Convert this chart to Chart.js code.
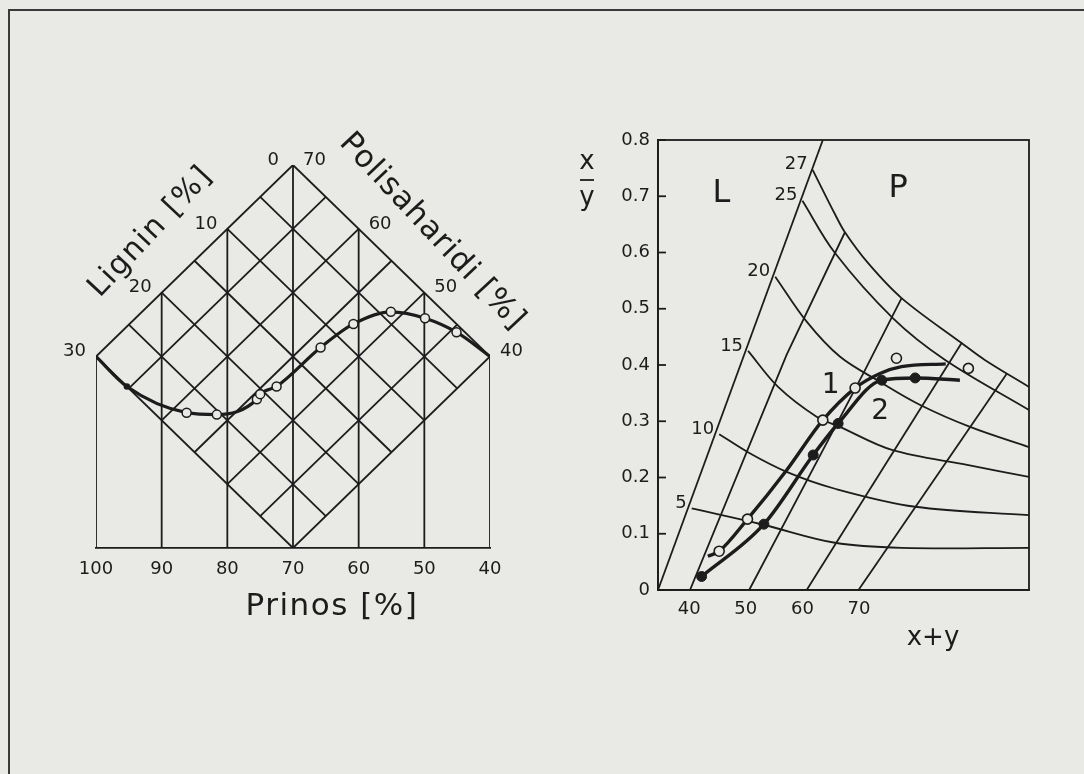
<!DOCTYPE html>
<html>
<head>
<meta charset="utf-8">
<script src="https://cdn.jsdelivr.net/npm/chart.js@4.4.1/dist/chart.umd.min.js"></script>
<style>
  html, body { margin: 0; padding: 0; background: #e9eae6; }
  #page { position: relative; width: 1084px; height: 774px; overflow: hidden; }
  #page::before { content: ""; position: absolute; left: 8px; top: 9px; right: -4px; bottom: -4px;
    border-top: 2px solid #3a3a3a; border-left: 2px solid #3a3a3a; }
  canvas { position: absolute; top: 0; }
  #left { left: 0; }
  #right { left: 540px; }
</style>
</head>
<body>
<div id="page">
  <canvas id="left" width="560" height="774"></canvas>
  <canvas id="right" width="544" height="774"></canvas>
</div>
<script>
const INK = "#1c1c1c";
const PAPER = "#e9eae6";
const FONT = "'DejaVu Sans', 'Liberation Sans', sans-serif";
const GRID_W = 1.8;

// ---- left diagram: Prinos = Lignin + Polisaharidi ----
const ligninSteps = [0, 5, 10, 15, 20, 25, 30];
const polySteps = [40, 45, 50, 55, 60, 65, 70];
const prinosLines = [100, 90, 80, 70, 60, 50, 40];
const prinosTicks = [100, 90, 80, 70, 60, 50, 40];
const ligninLabels = [30, 20, 10, 0];
const polyLabels = [70, 60, 50, 40];

// measured composition: yield and lignin content
const curvePrinos = [100, 95.3, 86.2, 81.6, 75.5, 75.0, 72.5, 65.8, 60.8, 55.1, 49.9, 45.1, 40];
const curveLignin = [30, 30.0, 27.5, 25.35, 21.1, 20.45, 18.6, 12.2, 7.85, 4.05, 1.95, 0.65, 0];

// ---- right diagram: x/y against x+y ----
const sumTicks = [40, 50, 60, 70];
const levelLabels = [5, 10, 15, 20, 25, 27];
const levelSum = [
  [40.45, 53.1, 65.75, 77.5, 100],
  [45.3, 50.7, 57.2, 65.75, 79.9, 100],
  [50.4, 55.7, 62.5, 66.6, 75.8, 89.3, 100],
  [55.2, 60.75, 66.6, 73.7, 80.8, 89.6, 100],
  [60.0, 65.75, 76.0, 85.2, 100],
  [61.8, 65.75, 67.5, 71.6, 77.5, 88.1, 92.2, 100]
];
const levelRatio = [
  [0.145, 0.116, 0.084, 0.075, 0.075],
  [0.277, 0.243, 0.210, 0.180, 0.148, 0.133],
  [0.425, 0.361, 0.308, 0.290, 0.249, 0.222, 0.201],
  [0.557, 0.477, 0.415, 0.370, 0.329, 0.290, 0.254],
  [0.692, 0.599, 0.483, 0.409, 0.320],
  [0.747, 0.668, 0.636, 0.581, 0.519, 0.439, 0.409, 0.361]
];
const raySum = [[34.5, 63.6], [40.15, 57.2, 67.5], [50.6, 70.75, 77.5], [60.75, 88.1], [69.9, 96.1]];
const rayRatio = [[0, 0.8], [0, 0.418, 0.636], [0, 0.385, 0.519], [0, 0.439], [0, 0.385]];

const series1Sum = [43.3, 45.3, 50.3, 57.2, 63.6, 69.3, 73.7, 77.5, 85.3];
const series1Ratio = [0.060, 0.069, 0.126, 0.213, 0.302, 0.359, 0.385, 0.397, 0.402];
const series1Marked = [0, 1, 1, 0, 1, 1, 0, 0, 0];
const series1OffSum = [76.6, 89.3];
const series1OffRatio = [0.412, 0.394];
const series2Sum = [42.2, 53.2, 61.9, 66.3, 74.0, 79.9, 87.8];
const series2Ratio = [0.024, 0.117, 0.240, 0.296, 0.373, 0.377, 0.373];
const series2Marked = [1, 1, 1, 1, 1, 1, 0];

function gridLine(points) {
  return { data: points, showLine: true, borderColor: INK, borderWidth: GRID_W,
    pointRadius: 0, tension: 0 };
}
function gridCurve(xs, ys) {
  return { data: xs.map((v, i) => ({ x: v, y: ys[i] })), showLine: true, borderColor: INK,
    borderWidth: GRID_W, pointRadius: 0, tension: 0.35 };
}
function drawText(ctx, text, x, y, size, align, spacing) {
  ctx.font = `${size}px ${FONT}`;
  ctx.letterSpacing = (spacing || 0) + "px";
  ctx.textAlign = align || "center";
  ctx.textBaseline = "middle";
  ctx.fillText(text, x, y);
}

// node of the lignin/polysaccharide grid: x = Prinos, y = Polisaharidi - Lignin
const node = (lig, poly) => ({ x: lig + poly, y: poly - lig });

const leftSets = [{
  data: curvePrinos.map((p, i) => ({ x: p, y: p - 2 * curveLignin[i] })),
  showLine: true, borderColor: INK, borderWidth: 3.2, cubicInterpolationMode: "monotone",
  pointRadius: curvePrinos.map((p, i) => (i === 0 || i === curvePrinos.length - 1) ? 0 : (i === 1 ? 2.5 : 4.5)),
  pointBackgroundColor: curvePrinos.map((p, i) => i === 1 ? INK : PAPER),
  pointBorderColor: INK, pointBorderWidth: 1.5
}];
const polyLo = polySteps[0], polyHi = polySteps[polySteps.length - 1];
const ligLo = ligninSteps[0], ligHi = ligninSteps[ligninSteps.length - 1];
ligninSteps.forEach(l => leftSets.push(gridLine([node(l, polyLo), node(l, polyHi)])));
polySteps.forEach(p => leftSets.push(gridLine([node(ligLo, p), node(ligHi, p)])));
prinosLines.forEach(p => {
  // verticals run from the base up to the upper edge of the diamond
  const top = p <= polyHi ? node(ligLo, p).y : node(p - polyHi, polyHi).y;
  leftSets.push(gridLine([{ x: p, y: polyLo - ligHi }, { x: p, y: top }]));
});

const leftLabels = {
  id: "leftLabels",
  afterDatasetsDraw(chart) {
    const { ctx, scales: { x, y } } = chart;
    ctx.save();
    ctx.fillStyle = INK;
    ligninLabels.forEach(l => {
      const n = node(l, polyHi);
      const dx = l === 0 ? -14 : -10;
      drawText(ctx, String(l), x.getPixelForValue(n.x) + dx, y.getPixelForValue(n.y) - 5, 18, "right");
    });
    polyLabels.forEach(p => {
      const n = node(ligLo, p);
      drawText(ctx, String(p), x.getPixelForValue(n.x) + 10, y.getPixelForValue(n.y) - 5, 18, "left");
    });
    drawText(ctx, "Prinos [%]", 332, 607, 31, "center", 1.5);
    ctx.translate(151, 232);
    ctx.rotate(-47 * Math.PI / 180);
    drawText(ctx, "Lignin [%]", 0, 0, 30, "center", 1.5);
    ctx.setTransform(1, 0, 0, 1, 0, 0);
    ctx.translate(432, 232);
    ctx.rotate(47 * Math.PI / 180);
    drawText(ctx, "Polisaharidi [%]", 0, 0, 31, "center", 1);
    ctx.restore();
  }
};

new Chart(document.getElementById("left"), {
  type: "scatter",
  data: { datasets: leftSets },
  options: {
    responsive: false, animation: false, events: [],
    layout: { autoPadding: false, padding: { left: 96, right: 70, top: 165, bottom: 186 } },
    plugins: { legend: { display: false }, tooltip: { enabled: false } },
    scales: {
      x: {
        type: "linear", reverse: true, min: 40, max: 100,
        afterBuildTicks: s => { s.ticks = prinosTicks.map(v => ({ value: v })); },
        afterFit: s => { s.height = 40; },
        grid: { display: false, drawTicks: false },
        border: { display: true, color: INK, width: GRID_W },
        ticks: { color: INK, font: { family: FONT, size: 18 }, padding: 11, maxRotation: 0, autoSkip: false }
      },
      y: { display: false, min: 10, max: 70 }
    }
  },
  plugins: [leftLabels]
});

// ---- right diagram ----
const rightSets = [
  {
    data: series1Sum.map((v, i) => ({ x: v, y: series1Ratio[i] })),
    showLine: true, borderColor: INK, borderWidth: 3.4, cubicInterpolationMode: "monotone",
    pointRadius: series1Marked.map(m => m ? 5 : 0),
    pointBackgroundColor: PAPER, pointBorderColor: INK, pointBorderWidth: 1.6
  },
  {
    data: series2Sum.map((v, i) => ({ x: v, y: series2Ratio[i] })),
    showLine: true, borderColor: INK, borderWidth: 3.4, cubicInterpolationMode: "monotone",
    pointRadius: series2Marked.map(m => m ? 5 : 0),
    pointBackgroundColor: INK, pointBorderColor: INK, pointBorderWidth: 1
  },
  {
    data: series1OffSum.map((v, i) => ({ x: v, y: series1OffRatio[i] })),
    showLine: false, pointRadius: 5,
    pointBackgroundColor: PAPER, pointBorderColor: INK, pointBorderWidth: 1.6
  }
];
levelSum.forEach((xs, i) => rightSets.push(gridCurve(xs, levelRatio[i])));
raySum.forEach((xs, i) => rightSets.push(gridLine(xs.map((v, j) => ({ x: v, y: rayRatio[i][j] })))));

const rightLabels = {
  id: "rightLabels",
  afterDatasetsDraw(chart) {
    const { ctx, chartArea: a, scales: { x, y } } = chart;
    ctx.save();
    ctx.strokeStyle = INK;
    ctx.lineWidth = GRID_W;
    ctx.strokeRect(a.left, a.top, a.right - a.left, a.bottom - a.top);
    // tick marks point into the plot
    y.ticks.forEach(t => {
      const py = y.getPixelForValue(t.value);
      ctx.beginPath();
      ctx.moveTo(a.left, py);
      ctx.lineTo(a.left + 8, py);
      ctx.stroke();
    });
    ctx.fillStyle = INK;
    levelLabels.forEach((lv, i) => {
      drawText(ctx, String(lv), x.getPixelForValue(levelSum[i][0]) - 5,
        y.getPixelForValue(levelRatio[i][0]) - 5, 18, "right");
    });
    drawText(ctx, "L", x.getPixelForValue(45.7), y.getPixelForValue(0.705), 32, "center");
    drawText(ctx, "P", x.getPixelForValue(76.9), y.getPixelForValue(0.714), 32, "center");
    drawText(ctx, "1", x.getPixelForValue(65.0), y.getPixelForValue(0.364), 28, "center");
    drawText(ctx, "2", x.getPixelForValue(73.7), y.getPixelForValue(0.317), 28, "center");
    // x over y, as a fraction
    const fx = a.left - 71;
    drawText(ctx, "x", fx, a.top + 22, 26, "center");
    ctx.beginPath();
    ctx.moveTo(fx - 7, a.top + 40);
    ctx.lineTo(fx + 7, a.top + 40);
    ctx.stroke();
    drawText(ctx, "y", fx, a.top + 58, 26, "center");
    drawText(ctx, "x+y", a.right - 96, a.bottom + 48, 26, "center");
    ctx.restore();
  }
};

new Chart(document.getElementById("right"), {
  type: "scatter",
  data: { datasets: rightSets },
  options: {
    responsive: false, animation: false, events: [],
    layout: { autoPadding: false, padding: { left: 48, right: 55, top: 140, bottom: 134 } },
    plugins: { legend: { display: false }, tooltip: { enabled: false } },
    scales: {
      x: {
        type: "linear", min: 34.5, max: 100,
        afterBuildTicks: s => { s.ticks = sumTicks.map(v => ({ value: v })); },
        afterFit: s => { s.height = 50; },
        grid: { display: false, drawTicks: false },
        border: { display: true, color: INK, width: GRID_W },
        ticks: { color: INK, font: { family: FONT, size: 18 }, padding: 9, maxRotation: 0, autoSkip: false }
      },
      y: {
        type: "linear", min: 0, max: 0.8,
        afterFit: s => { s.width = 70; },
        grid: { display: false, drawTicks: false },
        border: { display: true, color: INK, width: GRID_W },
        ticks: { stepSize: 0.1, color: INK, font: { family: FONT, size: 18 }, padding: 8 }
      }
    }
  },
  plugins: [rightLabels]
});
</script>
</body>
</html>
